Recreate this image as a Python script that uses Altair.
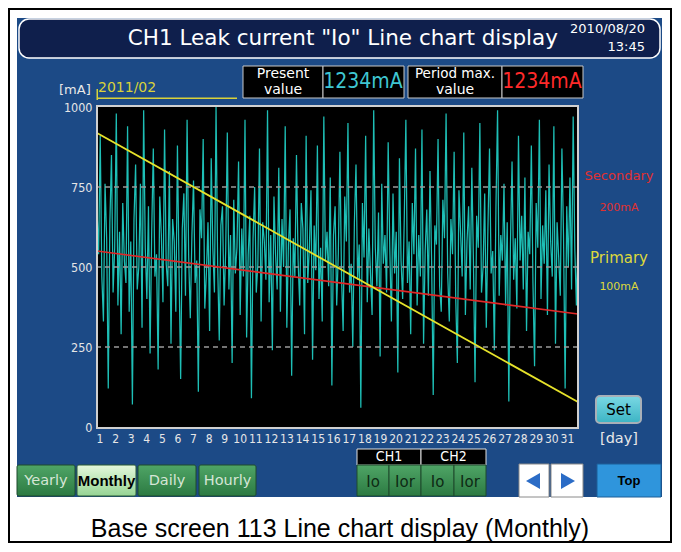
import altair as alt
import numpy as np
import pandas as pd

# ---------------- data ----------------
day_ticks = list(range(1, 32))
y_ticks = [0, 250, 500, 750, 1000]
grid_values = [250, 500, 750]
x_domain = [0.84, 31.71]

io_values = [
    680, 540, 910, 470, 330, 760, 590, 120, 640, 850, 420, 560, 980, 380, 610, 290, 700, 520, 450, 940,
    360, 580, 70, 650, 820, 430, 500, 760, 310, 990, 560, 400, 690, 230, 610, 870, 470, 540, 180, 720,
    600, 390, 930, 510, 440, 800, 260, 650, 580, 360, 880, 490, 150, 620, 730, 410, 960, 530, 340, 600,
    770, 450, 520, 110, 680, 590, 900, 370, 480, 640, 300, 840, 560, 420, 1000, 510, 270, 630, 690, 380,
    550, 920, 430, 600, 200, 710, 480, 560, 830, 350, 620, 470, 960, 280, 540, 660, 90, 590, 750, 420,
    510, 870, 330, 640, 580, 460, 990, 390, 600, 240, 720, 540, 430, 810, 360, 650, 500, 940, 310, 570,
    680, 160, 590, 470, 850, 520, 380, 700, 620, 290, 910, 450, 560, 740, 210, 630, 490, 880, 400, 560,
    330, 970, 520, 610, 440, 780, 130, 600, 690, 380, 540, 860, 470, 300, 720, 580, 950, 420, 510, 250,
    640, 820, 460, 570, 60, 700, 530, 910, 390, 620, 480, 350, 990, 560, 440, 670, 220, 760, 510, 600,
    420, 890, 560, 330, 730, 480, 610, 170, 840, 520, 400, 650, 960, 450, 580, 290, 700, 540, 870, 380,
    600, 470, 930, 260, 550, 680, 410, 800, 520, 100, 630, 570, 900, 440, 360, 710, 590, 980, 480, 330,
    650, 540, 860, 400, 200, 740, 610, 470, 920, 350, 580, 690, 430, 810, 520, 140, 660, 560, 950, 420,
    500, 730, 310, 620, 870, 480, 550, 240, 690, 990, 410, 600, 520, 760, 380, 640, 80, 570, 830, 460,
    590, 370, 910, 520, 660, 430, 780, 300, 610, 540, 880, 450, 190, 700, 560, 960, 400, 630, 510, 740,
    350, 820, 580, 470, 940, 260, 640, 530, 410, 870, 600, 120, 690, 500, 780, 430, 970, 560, 380, 610,
]
secondary_line = [550, 353]
primary_line = [919, 78]

title_text = 'CH1 Leak current "Io" Line chart display'
date_text = "2010/08/20"
time_text = "13:45"
month_text = "2011/02"
present_value = "1234mA"
period_max_value = "1234mA"
caption_text = "Base screen 113 Line chart display (Monthly)"
period_buttons = ["Yearly", "Monthly", "Daily", "Hourly"]
channel_headers = ["CH1", "CH2"]
channel_buttons = ["Io", "Ior", "Io", "Ior"]

# ---------------- layout helpers ----------------
OX, OY = 97, 107          # page position of the plot origin
W, H = 481, 320
PAD = {"left": 89, "top": 99, "right": 94, "bottom": 116}

SANS = "DejaVu Sans, Verdana, sans-serif"
ARIAL = "Liberation Sans, Arial, Helvetica, sans-serif"
NARROW = "Liberation Sans Narrow, Arial Narrow, DejaVu Sans Condensed, sans-serif"

one = pd.DataFrame({"k": [0]})
layers = []


def rect(x1, y1, x2, y2, fill, stroke=None, sw=1.0, cr=0):
    kw = dict(fill=fill, cornerRadius=cr)
    if stroke is not None:
        kw.update(stroke=stroke, strokeWidth=sw)
    else:
        kw.update(strokeWidth=0)
    layers.append(
        alt.Chart(one).mark_rect(**kw).encode(
            x=alt.value(x1 - OX), x2=alt.value(x2 - OX),
            y=alt.value(y1 - OY), y2=alt.value(y2 - OY),
        )
    )


def text(x, y, s, color, size, font=SANS, align="center", weight="normal"):
    layers.append(
        alt.Chart(one).mark_text(
            text=s, color=color, fontSize=size, font=font, align=align,
            baseline="middle", fontWeight=weight,
        ).encode(x=alt.value(x - OX), y=alt.value(y - OY))
    )


def vgrad(top, bottom):
    return alt.LinearGradient(
        gradient="linear", x1=0, x2=0, y1=0, y2=1,
        stops=[alt.GradientStop(color=top, offset=0), alt.GradientStop(color=bottom, offset=1)],
    )


# ---------------- background / frame ----------------
rect(9, 9, 671, 542, "#ffffff", "#000000", 2)
rect(17, 18, 662, 497, "#1c4a86")
rect(19, 19, 660, 58, "#0f1f4c", "#ffffff", 1.5, 10)
text(558, 39, title_text, "#ffffff", 21.5, align="right")
text(645, 29, date_text, "#ffffff", 13, align="right")
text(645, 47, time_text, "#ffffff", 13, align="right")

# header row
text(59, 90, "[mA]", "#e8e8e8", 13, align="left")
text(98, 88, month_text, "#d9d23a", 14, align="left")
rect(97, 97.5, 237, 99, "#d9d23a")
rect(96.5, 89, 98, 100, "#d9d23a")

rect(243, 66, 323, 98, "#000000", "#c8c8c8", 1)
rect(323, 66, 404, 98, "#000000", "#c8c8c8", 1)
rect(408, 66, 502, 98, "#000000", "#c8c8c8", 1)
rect(502, 66, 583, 98, "#000000", "#c8c8c8", 1)
text(283, 74, "Present", "#ffffff", 14)
text(283, 90, "value", "#ffffff", 14)
text(363, 82, present_value, "#3fc6d2", 21, font=NARROW)
text(455, 74, "Period max.", "#ffffff", 13.5)
text(455, 90, "value", "#ffffff", 14)
text(542, 82, period_max_value, "#ff2a2a", 21, font=NARROW)

# ---------------- plot ----------------
rect(97, 106, 578, 428, "#000000")

x_scale = alt.Scale(domain=x_domain, nice=False, zero=False)
y_scale = alt.Scale(domain=[0, 1000], nice=False)
x_axis = alt.Axis(
    values=day_ticks, title=None, ticks=False, domain=False, grid=False,
    labelColor="#e6e6e6", labelFont=NARROW, labelFontSize=12,
    labelPadding=6, labelFlush=False, labelOverlap=False, zindex=2)
y_axis = alt.Axis(
    values=y_ticks, format="d", title=None, ticks=False, domain=False, grid=False,
    labelColor="#e6e6e6", labelFont=NARROW, labelFontSize=12.5,
    labelPadding=5, labelFlush=False, zindex=2)

io_df = pd.DataFrame({
    "day": np.linspace(x_domain[0], x_domain[1], len(io_values)),
    "mA": io_values,
})
layers.append(
    alt.Chart(io_df).mark_line(color="#1ebfb6", strokeWidth=1.25).encode(
        x=alt.X("day:Q", scale=x_scale, axis=x_axis),
        y=alt.Y("mA:Q", scale=y_scale, axis=y_axis),
    )
)

grid_df = pd.DataFrame({"mA": grid_values})
layers.append(
    alt.Chart(grid_df).mark_rule(color="#9a9a9a", strokeDash=[5, 4], strokeWidth=1.3).encode(
        y=alt.Y("mA:Q", scale=y_scale, axis=y_axis)
    )
)

sec_df = pd.DataFrame({"day": x_domain, "mA": secondary_line})
layers.append(
    alt.Chart(sec_df).mark_line(color="#e02828", strokeWidth=1.6).encode(
        x=alt.X("day:Q", scale=x_scale, axis=x_axis),
        y=alt.Y("mA:Q", scale=y_scale, axis=y_axis),
    )
)
pri_df = pd.DataFrame({"day": x_domain, "mA": primary_line})
layers.append(
    alt.Chart(pri_df).mark_line(color="#e6e22a", strokeWidth=1.8).encode(
        x=alt.X("day:Q", scale=x_scale, axis=x_axis),
        y=alt.Y("mA:Q", scale=y_scale, axis=y_axis),
    )
)
rect(97, 106, 578, 428, "transparent", "#d0d0d0", 2)

# ---------------- right side ----------------
text(619, 176, "Secondary", "#e03030", 13)
text(619, 208, "200mA", "#e03030", 11)
text(619, 258, "Primary", "#dcd83c", 15)
text(619, 287, "100mA", "#dcd83c", 11)
rect(596, 396, 641, 423, vgrad("#7ad8e4", "#3cb4c4"), "#a8b0b8", 2, 4)
text(618.5, 410, "Set", "#000000", 15)
text(619, 439, "[day]", "#e8e8e8", 14.5)

# ---------------- bottom buttons ----------------
btn_x = [(17, 75), (77, 136), (138, 196), (199, 256)]
for (a, b), label in zip(btn_x, period_buttons):
    if label == "Monthly":
        rect(a, 465, b, 496, vgrad("#e4f8dc", "#96d494"), "#2a5a35", 1, 2)
        text((a + b) / 2, 481, label, "#000000", 15, font=ARIAL, weight="bold")
    else:
        rect(a, 465, b, 496, vgrad("#4fa566", "#2c7a42"), "#1f4a2c", 1, 2)
        text((a + b) / 2, 481, label, "#d6e6d6", 14.5)

ch_x = [(357, 421), (421, 486)]
for (a, b), label in zip(ch_x, channel_headers):
    rect(a, 449, b, 465, "#000000", "#e0e0e0", 1)
    text((a + b) / 2, 457, label, "#ffffff", 14, font=NARROW)
cb_x = [(357, 389), (389, 421), (421, 454), (454, 486)]
for (a, b), label in zip(cb_x, channel_buttons):
    rect(a, 465, b, 496, vgrad("#4fa566", "#2c7a42"), "#1f4a2c", 1)
    text((a + b) / 2, 482, label, "#0e2a14", 15)

rect(519, 464, 549, 497, "#ffffff", "#8a8a8a", 1)
rect(551, 464, 583, 497, "#ffffff", "#8a8a8a", 1)
for cx, shape in [(533, "triangle-left"), (568, "triangle-right")]:
    layers.append(
        alt.Chart(one).mark_point(shape=shape, filled=True, fill="#2b6cc6", size=260, opacity=1).encode(
            x=alt.value(cx - OX), y=alt.value(481 - OY)
        )
    )

rect(597, 464, 661, 497, "#2f95dc", "#1c5f98", 1)
text(629, 481, "Top", "#000000", 13, font=ARIAL, weight="bold")

# caption
text(340, 529, caption_text, "#000000", 25, font=ARIAL)

chart = alt.layer(*layers).properties(
    width=W, height=H, padding=PAD, autosize="none", background="#ffffff"
).configure_view(stroke=None)

chart.save("out.html", embed_options={"renderer": "svg", "actions": False})
